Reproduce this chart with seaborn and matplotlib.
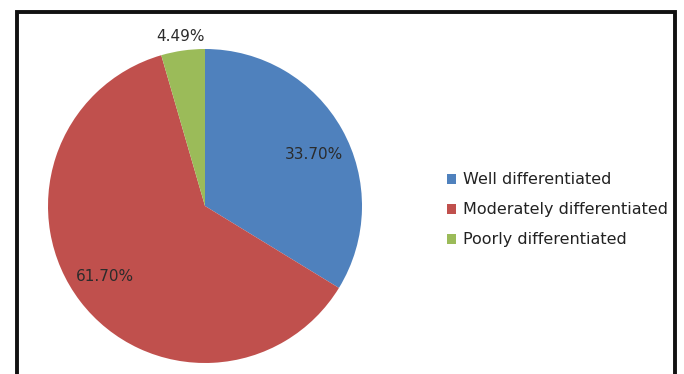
import numpy as np
import matplotlib
matplotlib.use("Agg")
import matplotlib.pyplot as plt
from matplotlib.patches import Rectangle, Patch
import seaborn as sns

# Tumour grade distribution
categories = ["Well differentiated", "Moderately differentiated", "Poorly differentiated"]
shares = [33.70, 61.70, 4.49]
pct_labels = ["33.70%", "61.70%", "4.49%"]
colors = ["#4F81BD", "#C0504D", "#9BBB59"]

sns.set_theme(style="white")
plt.rcParams["font.family"] = ["DejaVu Sans"]

W, H = 684, 374
fig = plt.figure(figsize=(W / 100, H / 100), dpi=100)
fig.patch.set_facecolor("white")

# Outer frame (open at the bottom edge of the canvas)
fig.add_artist(Rectangle((17 / W, -0.05), (675 - 17) / W, 1.05 - 11.5 / H,
                         transform=fig.transFigure, fill=False,
                         edgecolor="#111111", linewidth=2.8))

# Pie axes
cx, cy, r = 205, 206, 157
ax = fig.add_axes([(cx - r) / W, (H - cy - r) / H, 2 * r / W, 2 * r / H])
wedges, _ = ax.pie(shares, colors=colors, startangle=90, counterclock=False,
                   radius=1.0, wedgeprops=dict(linewidth=0))
ax.set_xlim(-1, 1)
ax.set_ylim(-1, 1)
ax.set_aspect("equal")
ax.axis("off")

# Percentage labels near each wedge's mid-angle (distance, angle nudge in degrees)
label_dist = [0.77, 0.78, 1.09]
label_nudge = [-4, -2, 0]
for w, lab, d, dn in zip(wedges, pct_labels, label_dist, label_nudge):
    mid = np.deg2rad((w.theta1 + w.theta2) / 2 + dn)
    ax.text(d * np.cos(mid), d * np.sin(mid), lab, ha="center", va="center",
            fontsize=11, color="#2b2b2b", clip_on=False)

handles = [Patch(facecolor=c, edgecolor="none") for c in colors]
fig.legend(handles, categories, loc="upper left",
           bbox_to_anchor=(433 / W, 1 - 158 / H), frameon=False,
           fontsize=11.5, handlelength=0.55, handleheight=0.55,
           handletextpad=0.45, labelspacing=0.94, labelcolor="#222222")

fig.savefig("out.png", dpi=100, facecolor="white")
